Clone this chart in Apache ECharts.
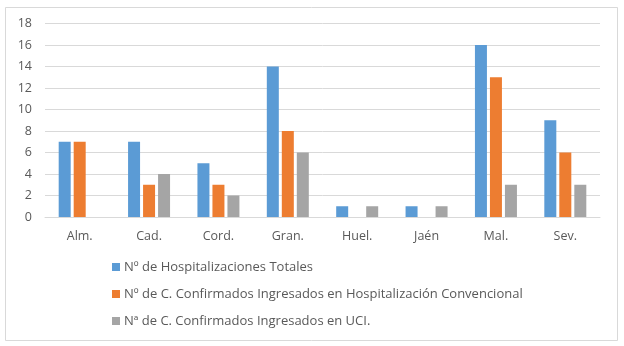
<!DOCTYPE html>
<html>
<head>
<meta charset="utf-8">
<script src="https://cdn.jsdelivr.net/npm/echarts@6/dist/echarts.min.js"></script>
<style>
  html, body { margin: 0; padding: 0; background: #fff; }
  #chart { width: 624px; height: 346px; }
</style>
</head>
<body>
<div id="chart"></div>
<script>
// Provincias andaluzas
const provincias = ['Alm.', 'Cad.', 'Cord.', 'Gran.', 'Huel.', 'Jaén', 'Mal.', 'Sev.'];

// Series
const hospTotales = [7, 7, 5, 14, 1, 1, 16, 9];
const hospConvencional = [7, 3, 3, 8, 0, 0, 13, 6];
const ingresosUci = [0, 4, 2, 6, 1, 1, 3, 3];

const nombresSeries = [
  'Nº de Hospitalizaciones Totales',
  'Nº de C. Confirmados Ingresados en Hospitalización Convencional',
  'Nª de C. Confirmados Ingresados en UCI.'
];

const fontFamily = '"Open Sans", "Liberation Sans", sans-serif';
const textColor = '#595959';

const chart = echarts.init(document.getElementById('chart'), null, { renderer: 'canvas' });

const barStyle = (color) => ({
  type: 'bar',
  barWidth: 12,
  barGap: '25%',
  itemStyle: { color: color },
  emphasis: { disabled: true }
});

chart.setOption({
  animation: false,
  backgroundColor: '#fff',
  textStyle: { fontFamily: fontFamily },
  graphic: [{
    type: 'rect',
    shape: { x: 5.5, y: 7.5, width: 612, height: 333 },
    style: { fill: 'none', stroke: '#d9d9d9', lineWidth: 1 },
    silent: true,
    z: -1
  }],
  grid: { left: 45, right: 24, top: 23.5, height: 193.5, containLabel: false },
  xAxis: {
    type: 'category',
    data: provincias,
    axisLine: { show: true, lineStyle: { color: '#d9d9d9' } },
    axisTick: { show: false },
    axisLabel: { color: textColor, fontSize: 12.5, fontFamily: fontFamily, margin: 13 }
  },
  yAxis: {
    type: 'value',
    min: 0,
    max: 18,
    interval: 2,
    axisLine: { show: false },
    axisTick: { show: false },
    splitLine: { lineStyle: { color: '#d9d9d9' } },
    axisLabel: { color: textColor, fontSize: 12.5, fontFamily: fontFamily, margin: 13 }
  },
  legend: {
    orient: 'vertical',
    left: 107,
    top: 253,
    itemWidth: 8,
    itemHeight: 8,
    itemGap: 9,
    icon: 'rect',
    textStyle: { color: textColor, fontSize: 13, lineHeight: 18, fontFamily: fontFamily, padding: [0, 0, 0, -1] },
    data: nombresSeries
  },
  series: [
    Object.assign(barStyle('#5b9bd5'), { name: nombresSeries[0], data: hospTotales }),
    Object.assign(barStyle('#ed7d31'), { name: nombresSeries[1], data: hospConvencional }),
    Object.assign(barStyle('#a5a5a5'), { name: nombresSeries[2], data: ingresosUci })
  ]
});
</script>
</body>
</html>
